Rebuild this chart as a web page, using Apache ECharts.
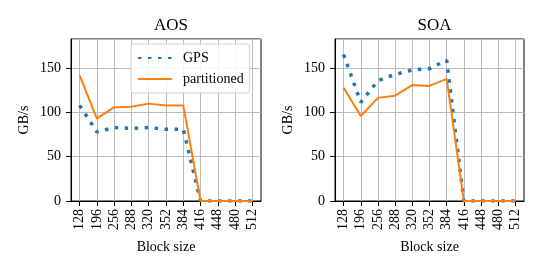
<!DOCTYPE html>
<html>
<head>
<meta charset="utf-8">
<script src="https://cdn.jsdelivr.net/npm/echarts@6/dist/echarts.min.js"></script>
<style>html,body{margin:0;padding:0;background:#fff}#c{width:545px;height:273px}</style>
</head>
<body>
<div id="c"></div>
<script>
const blockSizes = ['128','196','256','288','320','352','384','416','448','480','512'];
const aosGPS = [108, 78, 83, 82, 83, 81, 81, 0, 0, 0, 0];
const aosPartitioned = [142, 93, 106, 106.5, 110, 108, 108, 0, 0, 0, 0];
const soaGPS = [165.5, 111.5, 136, 143, 148, 149.5, 159, 0, 0, 0, 0];
const soaPartitioned = [128, 96, 116.5, 119, 131, 130, 138, 0, 0, 0, 0];
const yTicks = [0, 50, 100, 150];
const titles = ['AOS', 'SOA'];

const FONT = 'Liberation Serif';
const BLUE = '#1f77b4', ORANGE = '#ff7f0e';
const chart = echarts.init(document.getElementById('c'));

const grids = [
  {left: 71, top: 39, width: 190, height: 162},
  {left: 335, top: 39, width: 189, height: 162}
];

function xAxis(i) {
  return {
    gridIndex: i, type: 'category', data: blockSizes, boundaryGap: true,
    name: 'Block size', nameLocation: 'middle', nameGap: 39,
    nameTextStyle: {fontFamily: FONT, fontSize: 14, color: '#000'},
    axisLine: {show: true, lineStyle: {color: '#000', width: 1}},
    axisTick: {show: true, alignWithLabel: true, length: 5, lineStyle: {color: '#000'}},
    axisLabel: {rotate: 90, margin: 8, interval: 0, fontFamily: FONT, fontSize: 14, color: '#000'},
    splitLine: {show: true, alignWithLabel: true, interval: 0, lineStyle: {color: '#bbbbbb', width: 1}}
  };
}
function yAxis(i) {
  return {
    gridIndex: i, type: 'value', min: 0, max: 183, interval: 50,
    name: 'GB/s', nameLocation: 'middle', nameGap: 40,
    nameTextStyle: {fontFamily: FONT, fontSize: 14, color: '#000'},
    axisLine: {show: true, lineStyle: {color: '#000', width: 1}},
    axisTick: {show: true, length: 5, lineStyle: {color: '#000'}},
    axisLabel: {margin: 10, fontFamily: FONT, fontSize: 14, color: '#000', showMaxLabel: false,
      formatter: v => yTicks.includes(v) ? String(v) : ''},
    splitLine: {show: true, lineStyle: {color: '#bbbbbb', width: 1}}
  };
}
function gps(i, data) {
  return {name: 'GPS', type: 'line', xAxisIndex: i, yAxisIndex: i, data: data,
    symbol: 'none', lineStyle: {color: BLUE, width: 3.5, type: [3.5, 6.5], cap: 'butt'},
    itemStyle: {color: BLUE}, z: 3};
}
function part(i, data) {
  return {name: 'partitioned', type: 'line', xAxisIndex: i, yAxisIndex: i, data: data,
    symbol: 'none', lineStyle: {color: ORANGE, width: 2}, itemStyle: {color: ORANGE}, z: 4};
}

chart.setOption({
  animation: false,
  title: titles.map((t, i) => ({
    text: t, left: grids[i].left + grids[i].width / 2, top: 12, textAlign: 'center',
    textStyle: {fontFamily: FONT, fontSize: 17, fontWeight: 'normal', color: '#000'}
  })),
  grid: grids.map(g => Object.assign({show: true, borderColor: '#000', borderWidth: 1, backgroundColor: 'transparent'}, g)),
  xAxis: [xAxis(0), xAxis(1)],
  yAxis: [yAxis(0), yAxis(1)],
  legend: {
    show: true, orient: 'vertical', left: 131, top: 44,
    data: ['GPS', 'partitioned'],
    itemWidth: 34, itemHeight: 14, itemGap: 7,
    padding: [7, 6, 7, 6],
    itemStyle: {opacity: 0, borderWidth: 0},
    backgroundColor: 'rgba(255,255,255,0.85)', borderColor: '#d0d0d0', borderWidth: 1, borderRadius: 3,
    textStyle: {fontFamily: FONT, fontSize: 14, color: '#000', padding: [0, 0, 0, 6]}
  },
  series: [gps(0, aosGPS), part(0, aosPartitioned), gps(1, soaGPS), part(1, soaPartitioned)]
});
</script>
</body>
</html>
